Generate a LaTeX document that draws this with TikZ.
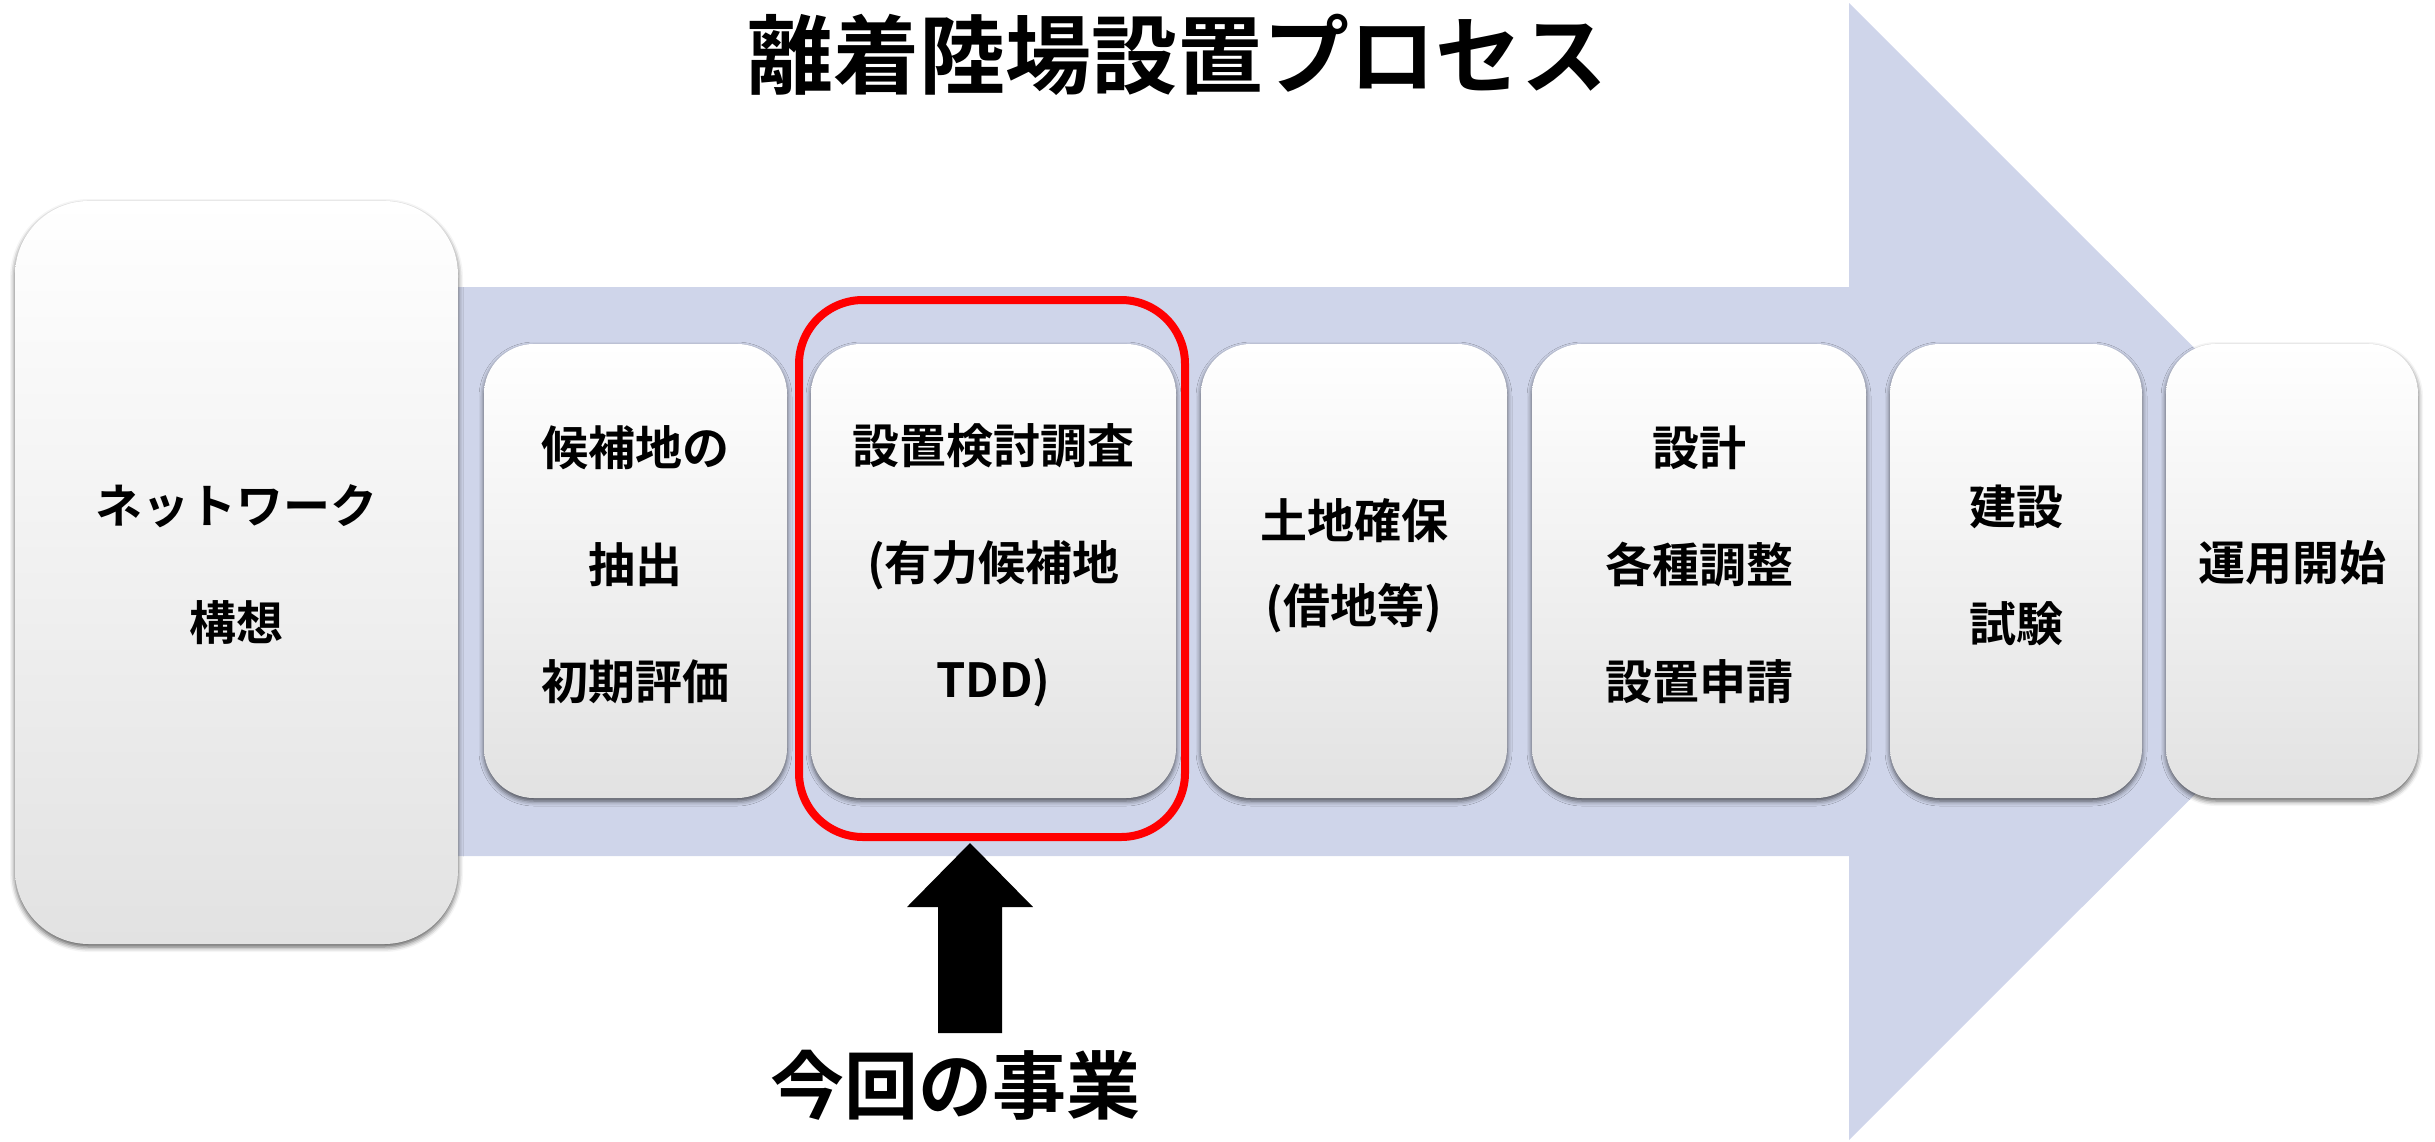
\documentclass[tikz,border=0pt]{standalone}
\usepackage{fontspec}
\newfontfamily\jp{Noto Sans CJK JP}[BoldFont={Noto Sans CJK JP Bold}]
\usetikzlibrary{shadows.blur,calc}
\definecolor{band}{RGB}{207,213,234}
\definecolor{boxbot}{RGB}{226,226,226}
\tikzset{
  stepbox/.style={rounded corners=#1, top color=white, middle color=white, bottom color=boxbot,
    blur shadow={shadow xshift=0pt, shadow yshift=-3pt, shadow blur radius=5pt, shadow opacity=65},
    inner sep=0pt, outer sep=0pt},
  lbl/.style={align=center, inner sep=0pt, font=\jp\bfseries\fontsize{47pt}{117pt}\selectfont},
}
\begin{document}
\begin{tikzpicture}[x=1pt,y=-1pt]
\useasboundingbox (0,0) rectangle (2435,1141);
% big process arrow
\fill[band] (300,287) -- (1849,287) -- (1849,3) -- (2418,571.5) -- (1849,1140) -- (1849,856) -- (300,856) -- cycle;
% title
\node[inner sep=0pt, font=\jp\bfseries\fontsize{86pt}{100pt}\selectfont] (title) at (1177,55) {離着陸場設置プロセス};
% boxes
\node[stepbox=74pt, minimum width=443pt, minimum height=743pt] (b1) at (236.5,572.5) {};
\node[stepbox=50pt, minimum width=303pt, minimum height=454pt] (b2) at (635.5,571) {};
\node[stepbox=50pt, minimum width=365pt, minimum height=454pt] (b3) at (993.5,571) {};
\node[stepbox=50pt, minimum width=306pt, minimum height=454pt] (b4) at (1354,571) {};
\node[stepbox=50pt, minimum width=334pt, minimum height=454pt] (b5) at (1699,571) {};
\node[stepbox=50pt, minimum width=252pt, minimum height=454pt] (b6) at (2016,571) {};
\node[stepbox=50pt, minimum width=252pt, minimum height=454pt] (b7) at (2292,571) {};
% labels
\node[lbl] (t1) at (236.5,565) {ネットワーク\\構想};
\node[lbl] (t2) at (635.5,565) {候補地の\\抽出\\初期評価};
\node[lbl] (t3) at (993.5,565) {設置検討調査\\(有力候補地\\TDD)};
\node[lbl, font=\jp\bfseries\fontsize{47pt}{85pt}\selectfont] (t4) at (1354,566) {土地確保\\(借地等)};
\node[lbl] (t5) at (1699,565) {設計\\各種調整\\設置申請};
\node[lbl] (t6) at (2016,565) {建設\\試験};
\node[lbl] (t7) at (2292,563) {運用開始};
% focus frame
\node[draw=red, line width=8pt, rounded corners=64pt, minimum width=386pt, minimum height=537pt, inner sep=0pt] (focus) at (992,568.5) {};
% bottom label and block arrow
\node[inner sep=0pt, font=\jp\bfseries\fontsize{74pt}{90pt}\selectfont] (here) at (955,1085) {今回の事業};
\coordinate (tip) at ($(focus.south)+(-22,2)$);
\fill[black] (tip) -- ++(63,64) -- ++(-31,0) -- ++(0,126) -- ++(-64,0) -- ++(0,-126) -- ++(-31,0) -- cycle;
\end{tikzpicture}
\end{document}
